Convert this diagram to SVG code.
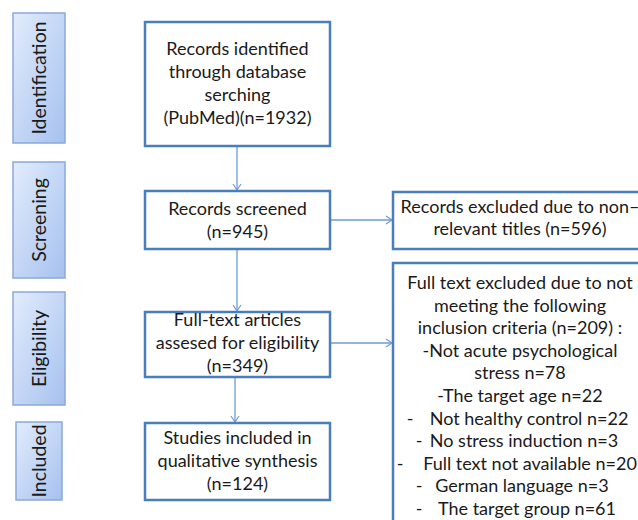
<svg xmlns="http://www.w3.org/2000/svg" width="638" height="520" viewBox="0 0 638 520">
<defs>
<linearGradient id="stg" x1="0" y1="0" x2="1" y2="1">
<stop offset="0" stop-color="#e2ecfc"/>
<stop offset="1" stop-color="#a6c1ef"/>
</linearGradient>
<marker id="arr" markerWidth="10" markerHeight="10" refX="8" refY="5" orient="auto" markerUnits="userSpaceOnUse">
<path d="M2,1 L8,5 L2,9" fill="none" stroke="#6f9bd8" stroke-width="1.2"/>
</marker>
</defs>
<style>
.stage{fill:url(#stg);stroke:#8aa9d9;stroke-width:1.5}
.box{fill:#fff;stroke:#4a7ebb;stroke-width:2.5}
.t{font-family:Lato,"Open Sans",sans-serif;font-size:18px;fill:#1a1a1a;text-anchor:middle}
.st{font-family:Lato,"Open Sans",sans-serif;font-size:19.5px;fill:#1a1a1a;text-anchor:middle}
.c{fill:none;stroke:#6f9bd8;stroke-width:1.3;marker-end:url(#arr)}
</style>
<rect width="638" height="520" fill="#fff"/>
<g id="stage-identification">
<rect class="stage" x="13" y="13" width="52" height="130"/>
<text class="st" transform="translate(46,78) rotate(-90)">Identification</text>
</g>
<g id="stage-screening">
<rect class="stage" x="13" y="162" width="52" height="116"/>
<text class="st" transform="translate(46,220) rotate(-90)">Screening</text>
</g>
<g id="stage-eligibility">
<rect class="stage" x="13" y="292" width="52" height="113"/>
<text class="st" transform="translate(46,348.5) rotate(-90)">Eligibility</text>
</g>
<g id="stage-included">
<rect class="stage" x="16" y="422" width="46" height="78"/>
<text class="st" transform="translate(46,461) rotate(-90)">Included</text>
</g>
<g id="connectors">
<path class="c" d="M237,146 V190"/>
<path class="c" d="M330,220 H392"/>
<path class="c" d="M237,249 V311"/>
<path class="c" d="M330,343 H392"/>
<path class="c" d="M235,377 V422"/>
</g>
<g id="n-identified">
<rect class="box" x="145" y="22" width="185" height="124"/>
<text class="t" x="237.5" y="55">Records identified</text>
<text class="t" x="237.5" y="78">through database</text>
<text class="t" x="237.5" y="101">serching</text>
<text class="t" x="237.5" y="124">(PubMed)(n=1932)</text>
</g>
<g id="n-screened">
<rect class="box" x="145" y="191" width="185" height="58"/>
<text class="t" x="237.5" y="215">Records screened</text>
<text class="t" x="237.5" y="238">(n=945)</text>
</g>
<g id="n-fulltext">
<rect class="box" x="145" y="312" width="185" height="65"/>
<text class="t" x="237.5" y="326">Full-text articles</text>
<text class="t" x="237.5" y="349">assesed for eligibility</text>
<text class="t" x="237.5" y="372">(n=349)</text>
</g>
<g id="n-included">
<rect class="box" x="145" y="423" width="185" height="77"/>
<text class="t" x="237.5" y="444">Studies included in</text>
<text class="t" x="237.5" y="467">qualitative synthesis</text>
<text class="t" x="237.5" y="490">(n=124)</text>
</g>
<g id="n-excluded-titles">
<rect class="box" x="393" y="192" width="260" height="57"/>
<text class="t" x="520" y="213">Records excluded due to non–</text>
<text class="t" x="520" y="235">relevant titles (n=596)</text>
</g>
<g id="n-excluded-fulltext">
<rect class="box" x="393" y="263" width="260" height="280"/>
<text class="t" x="520" y="289">Full text excluded due to not</text>
<text class="t" x="520" y="311.6">meeting the following</text>
<text class="t" x="520" y="334.2">inclusion criteria (n=209) :</text>
<text class="t" x="520" y="356.8">-Not acute psychological</text>
<text class="t" x="520" y="379.4">stress n=78</text>
<text class="t" x="520" y="402">-The target age n=22</text>
<text class="t" x="410" y="424.6">-</text><text class="t" x="529" y="424.6">Not healthy control n=22</text>
<text class="t" x="419" y="447.2">-</text><text class="t" x="524" y="447.2">No stress induction n=3</text>
<text class="t" x="400" y="469.8">-</text><text class="t" x="530" y="469.8">Full text not available n=20</text>
<text class="t" x="419" y="492.4">-</text><text class="t" x="522" y="492.4">German language n=3</text>
<text class="t" x="419" y="515">-</text><text class="t" x="527" y="515">The target group n=61</text>
</g>
</svg>
